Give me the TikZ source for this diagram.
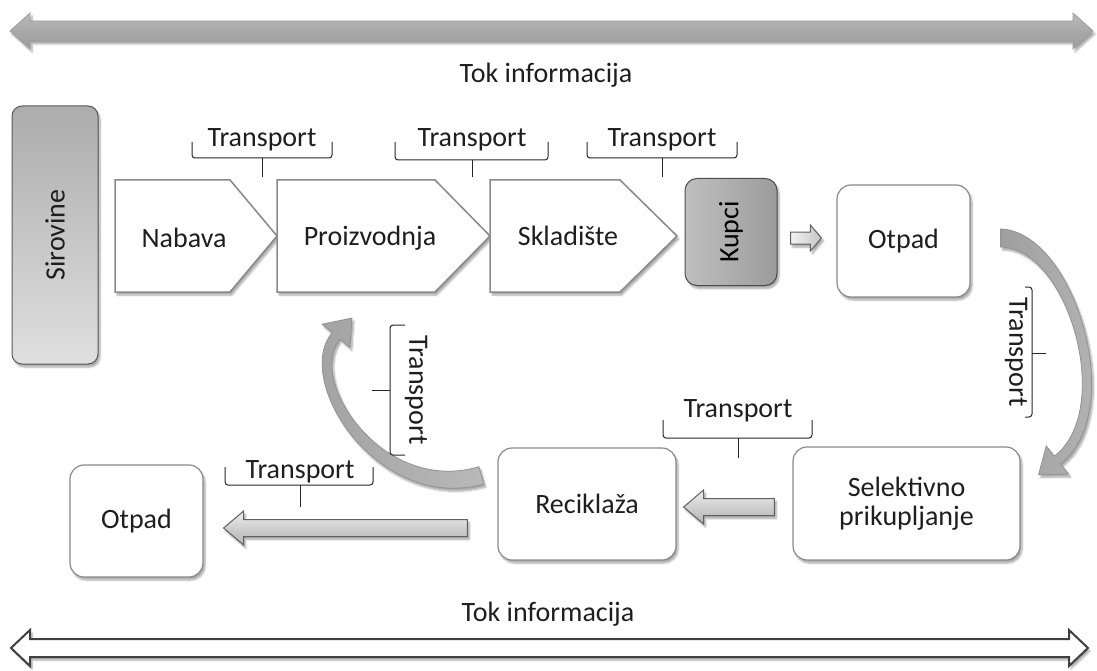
\documentclass[tikz,border=0pt]{standalone}
\usepackage{fontspec}
\setmainfont{Carlito}
\usetikzlibrary{arrows.meta,calc,shadows,shadows.blur}
\definecolor{bord}{HTML}{8A8A8A}
\definecolor{txt}{HTML}{1E1E1E}
\newcommand{\blockarr}[6]{%
  \draw[#1] ($(#2 |- #3)+(0,-#5)$) -- ($(#3)+(#4,-#5)$) -- ($(#3)+(#4,-#6)$) -- (#3)
    -- ($(#3)+(#4,#6)$) -- ($(#3)+(#4,#5)$) -- ($(#2 |- #3)+(0,#5)$) -- cycle;}
\begin{document}
\begin{tikzpicture}[x=1pt,y=-1pt,
  font=\fontsize{28}{31}\selectfont,
  shad/.style={blur shadow={shadow xshift=2pt,shadow yshift=-3pt,shadow blur steps=6,shadow opacity=35}},
  box/.style={draw=bord,line width=1.2pt,fill=white,rounded corners=14pt,shad,inner sep=0pt},
  chev/.style={draw=bord,line width=1.5pt,fill=white,shad,line join=miter},
  lbl/.style={text=txt,inner sep=0pt,align=center},
  brace/.style={draw=black!85,line width=1pt,rounded corners=3pt},
  barrow/.style={draw=gray!75!black,line width=1pt,top color=gray!15,bottom color=gray!60,shad},
  sarrow/.style={draw=gray!75!black,line width=1pt,left color=gray!10,right color=gray!45,shad},
  carrow/.style={draw=gray!85,line width=0.8pt,left color=gray!75,right color=gray!55,shad,line join=miter},
]
\useasboundingbox (0,0) rectangle (1097,671);

% information flow arrows
\draw[draw=gray!75,line width=0.8pt,top color=gray!55,bottom color=gray!80,shad]
  (10,31) -- (30,13) -- (30,21) -- (1073,21) -- (1073,13) -- (1093,31) -- (1073,49)
  -- (1073,41) -- (30,41) -- (30,49) -- cycle;
\node[lbl] (tok1) at (546,75) {Tok informacija};
\draw[draw=black!75,line width=2pt,fill=white,shad]
  (11,648) -- (30,630) -- (30,639) -- (1069,639) -- (1069,630) -- (1088,648) -- (1069,666)
  -- (1069,657) -- (30,657) -- (30,666) -- cycle;
\node[lbl] (tok2) at (548,614) {Tok informacija};

% Sirovine
\node[draw=gray!70!black,line width=1pt,rounded corners=10pt,top color=gray!65,bottom color=gray!25,
  minimum width=86pt,minimum height=258pt,shad] (sir) at (55,235) {};
\node[lbl,rotate=90] (sirl) at (sir) {Sirovine};

% chevrons
\draw[chev] (115,180) -- (230,180) -- (277,236) -- (230,292) -- (115,292) -- cycle;
\draw[chev] (277,180) -- (435,180) -- (490,236) -- (435,292) -- (277,292) -- cycle;
\draw[chev] (490,180) -- (620,180) -- (677,236) -- (620,292) -- (490,292) -- cycle;
\node[lbl] (nab) at (184,238) {Nabava};
\node[lbl] (pro) at (370,238) {Proizvodnja};
\node[lbl] (skl) at (568,236) {Skladište};
\coordinate (probot) at (362,292);

% Kupci
\node[draw=gray!60!black,line width=1pt,rounded corners=12pt,left color=gray!50,right color=gray!78,
  minimum width=92pt,minimum height=107pt,shad] (kup) at (731,232) {};
\node[lbl,rotate=90,text=black] (kupl) at (kup) {Kupci};

% boxes
\node[box,minimum width=133pt,minimum height=112pt] (otR) at (903.5,241) {};
\node[lbl] at (otR) {Otpad};
\node[box,minimum width=227pt,minimum height=113pt] (sel) at (906.5,503.5) {};
\node[lbl] at (sel) {Selektivno\\[-2pt]prikupljanje};
\node[box,minimum width=178pt,minimum height=112pt] (rec) at (587,504) {};
\node[lbl] at (rec) {Reciklaža};
\node[box,minimum width=133pt,minimum height=112pt] (otL) at (136.5,521) {};
\node[lbl] at (otL) {Otpad};

% block arrows
\coordinate (a1s) at ($(kup.east)+(13,6)$);
\coordinate (a1t) at ($(otR.west)+(-15,-3)$);
\blockarr{sarrow}{a1s}{a1t}{-11}{6}{13}
\coordinate (a2s) at ($(sel.west)+(-18,0)$);
\coordinate (a2t) at ($(rec.east)+(7,3)$);
\blockarr{barrow}{a2s}{a2t}{20}{8.5}{17}
\coordinate (a3s) at ($(rec.west)+(-30,0)$);
\coordinate (a3t) at ($(otL.east)+(20,7)$);
\blockarr{barrow}{a3s}{a3t}{20}{8.5}{17}

% curved arrows (tapered), Otpad -> Selektivno prikupljanje
\coordinate (cR1) at ($(otR.east)+(30,-3)$);
\coordinate (cR2) at ($(sel.north east)+(18,28)$);
\draw[carrow] ($(cR1)+(0,-9)$) .. controls ($(cR1)+(73,-7)$) and ($(cR1)+(128,172)$) .. ($(cR1)+(60,226)$)
  -- ($(cR1)+(68,236)$) -- (cR2) -- ($(cR1)+(45.6,208)$) -- ($(cR1)+(53.7,218.2)$)
  .. controls ($(cR1)+(114,172)$) and ($(cR1)+(68,10)$) .. ($(cR1)+(0,9)$) -- cycle;
% Reciklaza -> Proizvodnja
\coordinate (cL1) at ($(rec.north west)+(-16,28)$);
\coordinate (cL2) at ($(probot)+(-10,26)$);
\draw[carrow] ($(cL1)+(2.5,8.7)$) .. controls ($(cL1)+(-105,38)$) and ($(cL1)+(-189,-96)$) .. ($(cL1)+(-149.2,-142.8)$)
  -- ($(cL1)+(-159.2,-151.2)$) -- (cL2) -- ($(cL1)+(-131.6,-128)$) -- ($(cL1)+(-141.6,-136.4)$)
  .. controls ($(cL1)+(-175,-96)$) and ($(cL1)+(-99,20)$) .. ($(cL1)+(-2.5,-8.7)$) -- cycle;

% transport braces (top)
\draw[brace] (192,142) -- (192,158) -- (332,158) -- (332,142);
\draw[brace] (262,158) -- (262,177);
\node[lbl,anchor=base] (t1) at (262,147) {Transport};
\draw[brace] (395,142) -- (395,160) -- (548,160) -- (548,142);
\draw[brace] (472,160) -- (472,177);
\node[lbl,anchor=base] (t2) at (472,147) {Transport};
\draw[brace] (587,142) -- (587,158) -- (737,158) -- (737,142);
\draw[brace] (662,158) -- (662,177);
\node[lbl,anchor=base] (t3) at (662,147) {Transport};

% transport braces (bottom)
\draw[brace] (663,420) -- (663,438) -- (812,438) -- (812,420);
\draw[brace] (738,438) -- (738,458);
\node[lbl,anchor=base] (t4) at (738,417) {Transport};
\draw[brace] (225,467) -- (225,485) -- (373,485) -- (373,467);
\draw[brace] (300,485) -- (300,507);
\node[lbl,anchor=base] (t5) at (300,478) {Transport};

% vertical braces
\draw[brace] (1025,287) -- (1032,287) -- (1032,417) -- (1025,417);
\draw[brace] (1032,353) -- (1046,353);
\node[lbl,rotate=-90] (t6) at (1016,352) {Transport};
\draw[brace] (405,325) -- (390,325) -- (390,455) -- (405,455);
\draw[brace] (390,390) -- (372,390);
\node[lbl,rotate=-90] (t7) at (416,390) {Transport};
\end{tikzpicture}
\end{document}
